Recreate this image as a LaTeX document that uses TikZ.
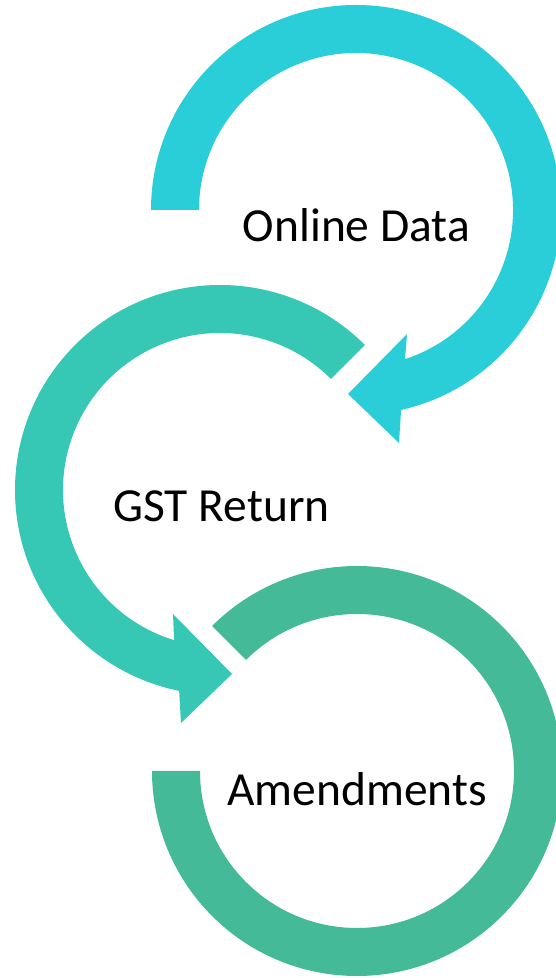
\documentclass[tikz,border=0pt]{standalone}
\usepackage{fontspec}
\setmainfont{Carlito}
\definecolor{arcone}{RGB}{42,206,216}
\definecolor{arctwo}{RGB}{55,199,181}
\definecolor{arcthree}{RGB}{68,186,152}
\tikzset{
  label text/.style={anchor=base, inner sep=0pt, text=black,
    font=\fontsize{47.5}{57}\selectfont},
}
\begin{document}
\begin{tikzpicture}[x=1pt, y=1pt]
  \useasboundingbox (0,0) rectangle (556,978);
  \clip (0,0) rectangle (556,978);

  % first ring: starts at the left, runs clockwise, arrowhead at lower right
  \coordinate (c1) at (356,768);
  \fill[arcone]
    ([shift={(c1)}]180:205) arc[start angle=180, end angle=-77.3, radius=205]
    -- (399,535) -- (348,584) -- (407,644)
    -- ([shift={(c1)}]-71.8:157) arc[start angle=-71.8, end angle=180, radius=157]
    -- cycle;

  % second ring: starts upper right, runs counter-clockwise, arrowhead at lower left
  \coordinate (c2) at (220,488);
  \fill[arctwo]
    ([shift={(c2)}]45:205) arc[start angle=45, end angle=258.5, radius=205]
    -- (181,255) -- (232,304) -- (173,364)
    -- ([shift={(c2)}]253:157) arc[start angle=253, end angle=45, radius=157]
    -- cycle;

  % third ring: starts upper left, runs clockwise, ends flat at the left
  \coordinate (c3) at (357,207);
  \fill[arcthree]
    ([shift={(c3)}]135:205) arc[start angle=135, end angle=-180, radius=205]
    -- ([shift={(c3)}]180:157) arc[start angle=-180, end angle=135, radius=157]
    -- cycle;

  \node[label text] (online) at (356.5,736) {Online Data};
  \node[label text] (gst) at (221.5,456) {GST Return};
  \node[label text] (amend) at (357,172) {Amendments};
\end{tikzpicture}
\end{document}
